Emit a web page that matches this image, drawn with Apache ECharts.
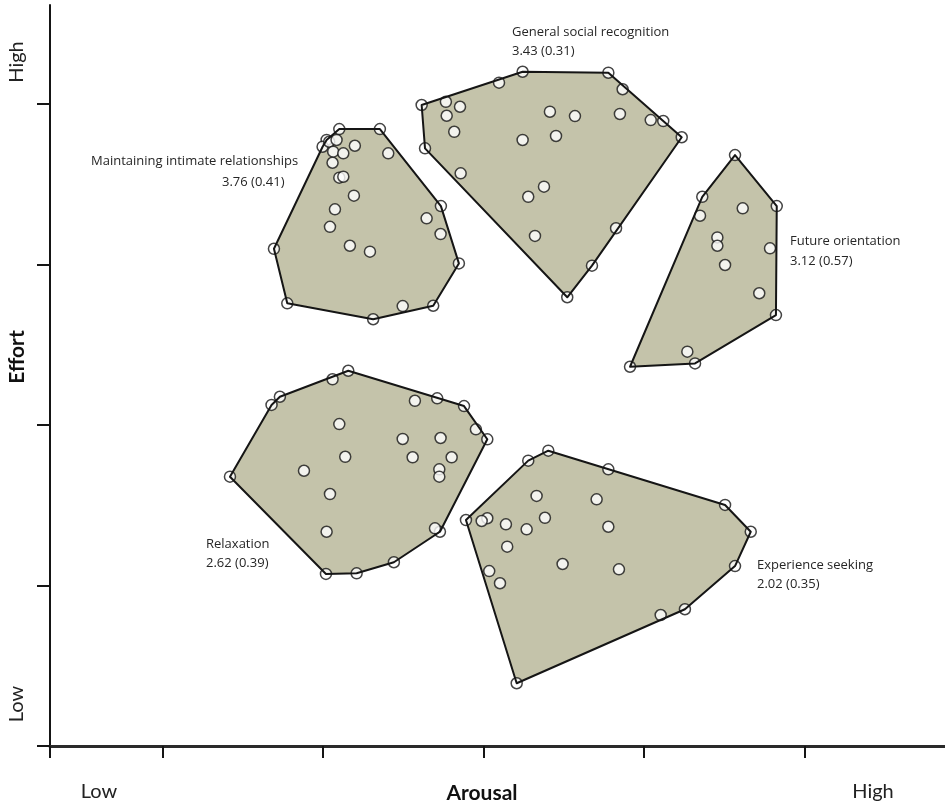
<!DOCTYPE html>
<html>
<head>
<meta charset="utf-8">
<script src="https://cdn.jsdelivr.net/npm/echarts@6/dist/echarts.min.js"></script>
<style>
  html, body { margin: 0; padding: 0; background: #ffffff; }
  #chart { width: 945px; height: 807px; }
</style>
</head>
<body>
<div id="chart"></div>
<script>
// Individual goal ratings on arousal (x) and effort (y), one array per goal category
const intimatePts = [
  [2.102, 3.844], [2.355, 3.844], [2.407, 3.693], [2.023, 3.776], [1.998, 3.734],
  [2.039, 3.765], [2.085, 3.776], [2.064, 3.703], [2.127, 3.693], [2.199, 3.740],
  [2.060, 3.634], [2.102, 3.541], [2.127, 3.547], [2.193, 3.429], [2.075, 3.344],
  [2.044, 3.235], [2.168, 3.117], [2.293, 3.080], [2.646, 3.288], [2.733, 3.190],
  [2.735, 3.364], [2.847, 3.007], [2.687, 2.743], [2.497, 2.741], [2.313, 2.659],
  [1.778, 2.758], [1.695, 3.098]
];
const socialPts = [
  [3.244, 4.201], [3.778, 4.195], [3.867, 4.092], [4.120, 3.894], [4.235, 3.793],
  [3.826, 3.226], [3.676, 2.993], [3.522, 2.796], [2.636, 3.724], [2.615, 3.994],
  [2.766, 4.014], [3.097, 4.133], [2.854, 3.983], [2.771, 3.927], [2.818, 3.827],
  [3.414, 3.952], [3.570, 3.925], [3.850, 3.938], [4.042, 3.900], [3.244, 3.776],
  [3.452, 3.801], [2.858, 3.568], [3.377, 3.485], [3.279, 3.422], [3.321, 3.178]
];
const futurePts = [
  [4.567, 3.682], [4.827, 3.364], [4.822, 2.685], [4.318, 2.384], [3.913, 2.363],
  [4.363, 3.422], [4.349, 3.304], [4.615, 3.350], [4.457, 3.169], [4.457, 3.117],
  [4.785, 3.101], [4.505, 2.997], [4.718, 2.821], [4.270, 2.457]
];
const relaxPts = [
  [2.158, 2.338], [2.060, 2.285], [1.732, 2.176], [1.680, 2.125], [1.421, 1.678],
  [2.019, 1.072], [2.210, 1.076], [2.442, 1.145], [2.729, 1.335], [2.698, 1.356],
  [3.024, 1.911], [2.953, 1.973], [2.879, 2.118], [2.712, 2.166], [2.573, 2.151],
  [2.102, 2.006], [2.497, 1.913], [2.733, 1.919], [2.139, 1.802], [2.559, 1.799],
  [2.802, 1.799], [2.725, 1.724], [2.725, 1.678], [1.882, 1.715], [2.044, 1.570],
  [2.023, 1.335]
];
const experiencePts = [
  [3.404, 1.840], [3.279, 1.778], [3.778, 1.724], [4.505, 1.502], [4.665, 1.335],
  [4.567, 1.121], [4.255, 0.852], [4.104, 0.816], [3.207, 0.391], [3.036, 1.090],
  [2.891, 1.408], [3.331, 1.558], [3.705, 1.537], [3.024, 1.419], [2.989, 1.402],
  [3.383, 1.422], [3.140, 1.381], [3.269, 1.350], [3.778, 1.366], [3.148, 1.242],
  [3.493, 1.134], [3.844, 1.101], [3.103, 1.014]
];

const goalNames = [
  'Maintaining intimate relationships',
  'General social recognition',
  'Future orientation',
  'Relaxation',
  'Experience seeking'
];
const goalMeans = ['3.76', '3.43', '3.12', '2.62', '2.02'];
const goalSDs = ['0.41', '0.31', '0.57', '0.39', '0.35'];

const arousalTicks = [1, 2, 3, 4, 5];
const effortTicks = [1, 2, 3, 4];
const arousalLabels = ['Low', 'Arousal', 'High'];
const effortLabels = ['Low', 'Effort', 'High'];

const goalPts = [intimatePts, socialPts, futurePts, relaxPts, experiencePts];

// Convex hull (monotone chain) around each goal category's ratings
function convexHull(pts) {
  const p = pts.slice().sort((a, b) => a[0] - b[0] || a[1] - b[1]);
  const cross = (o, a, b) => (a[0] - o[0]) * (b[1] - o[1]) - (a[1] - o[1]) * (b[0] - o[0]);
  const lower = [];
  for (const q of p) {
    while (lower.length >= 2 && cross(lower[lower.length - 2], lower[lower.length - 1], q) <= 0) lower.pop();
    lower.push(q);
  }
  const upper = [];
  for (let i = p.length - 1; i >= 0; i--) {
    const q = p[i];
    while (upper.length >= 2 && cross(upper[upper.length - 2], upper[upper.length - 1], q) <= 0) upper.pop();
    upper.push(q);
  }
  upper.pop();
  lower.pop();
  return lower.concat(upper);
}
const hulls = goalPts.map(convexHull);

const X_MIN = 0.3, X_MAX = 5.875;
const Y_MIN = 0, Y_MAX = 4.617;

const FILL = '#c4c3aa';
const INK = '#151515';
const LABEL_FONT = '13px "Open Sans", "Noto Sans", sans-serif';
const AXIS_FONT = '20px Lato, "Open Sans", sans-serif';
const AXIS_FONT_BOLD = 'bold 21px Lato, "Open Sans", sans-serif';

function hullSeries(name, z, style) {
  return {
    type: 'custom',
    name: name,
    coordinateSystem: 'cartesian2d',
    z: z,
    silent: true,
    clip: false,
    data: goalPts.map(pts => pts[0]),
    renderItem: function (params, api) {
      const pts = hulls[params.dataIndex].map(p => api.coord(p));
      return { type: 'polygon', shape: { points: pts }, style: style };
    }
  };
}

const scatterSeries = goalPts.map((pts, i) => ({
  type: 'scatter',
  name: goalNames[i],
  z: 3,
  symbol: 'circle',
  symbolSize: 11,
  itemStyle: { color: '#ffffff', borderColor: INK, borderWidth: 1.5 },
  data: pts
}));

// Category captions: name on the first line, mean (SD) below
const captionPlaces = [
  { x: 91, y: 161, x2: 222, y2: 182 },
  { x: 512, y: 32, x2: 512, y2: 51 },
  { x: 790, y: 241, x2: 790, y2: 261 },
  { x: 206, y: 544, x2: 206, y2: 563 },
  { x: 757, y: 565, x2: 757, y2: 584 }
];
const captionGraphics = [];
goalNames.forEach((name, i) => {
  const c = captionPlaces[i];
  captionGraphics.push({
    type: 'text', x: c.x, y: c.y, z: 100,
    style: { text: name, font: LABEL_FONT, fill: '#262626', align: 'left', verticalAlign: 'middle' }
  });
  captionGraphics.push({
    type: 'text', x: c.x2, y: c.y2, z: 100,
    style: { text: goalMeans[i] + ' (' + goalSDs[i] + ')', font: LABEL_FONT, fill: '#262626', align: 'left', verticalAlign: 'middle' }
  });
});

// Axis end labels and titles
const axisGraphics = [
  { type: 'text', x: 99, y: 792, style: { text: arousalLabels[0], font: AXIS_FONT, fill: '#222', align: 'center', verticalAlign: 'middle' } },
  { type: 'text', x: 482, y: 793, style: { text: arousalLabels[1], font: AXIS_FONT_BOLD, fill: '#111', align: 'center', verticalAlign: 'middle' } },
  { type: 'text', x: 873, y: 792, style: { text: arousalLabels[2], font: AXIS_FONT, fill: '#222', align: 'center', verticalAlign: 'middle' } },
  { type: 'text', x: 17, y: 704, rotation: Math.PI / 2, style: { text: effortLabels[0], font: AXIS_FONT, fill: '#222', align: 'center', verticalAlign: 'middle' } },
  { type: 'text', x: 17, y: 357, rotation: Math.PI / 2, style: { text: effortLabels[1], font: AXIS_FONT_BOLD, fill: '#111', align: 'center', verticalAlign: 'middle' } },
  { type: 'text', x: 17, y: 62, rotation: Math.PI / 2, style: { text: effortLabels[2], font: AXIS_FONT, fill: '#222', align: 'center', verticalAlign: 'middle' } }
];

const chart = echarts.init(document.getElementById('chart'), null, { renderer: 'canvas' });
chart.setOption({
  backgroundColor: '#ffffff',
  animation: false,
  grid: { left: 50, right: 0, top: 5, bottom: 61, containLabel: false },
  xAxis: {
    type: 'value',
    min: X_MIN,
    max: X_MAX,
    splitLine: { show: false },
    axisLine: { show: true, onZero: false, lineStyle: { color: '#2a2a2a', width: 3 } },
    axisTick: { show: true, inside: false, length: 12, customValues: [X_MIN].concat(arousalTicks), lineStyle: { color: INK, width: 2 } },
    axisLabel: { show: false }
  },
  yAxis: {
    type: 'value',
    min: Y_MIN,
    max: Y_MAX,
    splitLine: { show: false },
    axisLine: { show: true, onZero: false, lineStyle: { color: INK, width: 2 } },
    axisTick: { show: true, inside: false, length: 13, customValues: [Y_MIN].concat(effortTicks), lineStyle: { color: INK, width: 2 } },
    axisLabel: { show: false }
  },
  graphic: { elements: captionGraphics.concat(axisGraphics) },
  series: [
    hullSeries('hull fill', 1, { fill: FILL, stroke: null }),
    ...scatterSeries,
    hullSeries('hull outline', 4, { fill: null, stroke: INK, lineWidth: 2, lineJoin: 'round' })
  ]
});
</script>
</body>
</html>
